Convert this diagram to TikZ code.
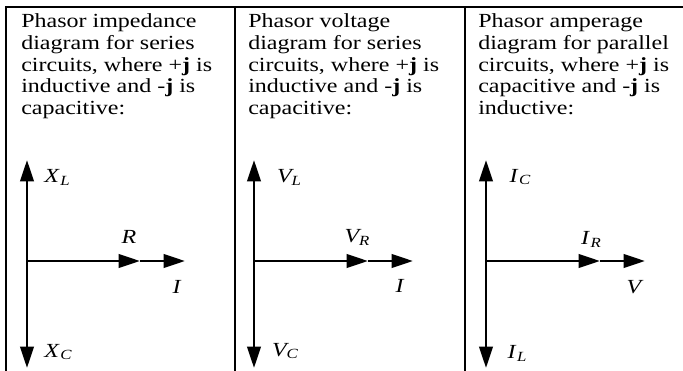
\documentclass[tikz,border=0pt]{standalone}
\usepackage{fontspec}
\setmainfont{Liberation Serif}
\usetikzlibrary{arrows.meta}
\newcommand{\phs}[3][0.3pt]{\textit{#2}\kern#1\raisebox{-0.32ex}{\fontsize{10.5}{10.5}\selectfont\textit{#3}}}

\begin{document}
\begin{tikzpicture}[x=0.75pt,y=-0.75pt,
  rule/.style={line width=1.5pt},
  caption/.style={anchor=north west,inner sep=0pt,align=left,xscale=1.2,transform shape,font=\fontsize{15pt}{16.3pt}\selectfont},
  phasor/.style={line width=2pt,-{Triangle[length=16pt,width=10pt]}},
  tag/.style={inner sep=0pt,xscale=1.2,transform shape,font=\fontsize{15pt}{16pt}\selectfont}]
\useasboundingbox (0,0) rectangle (683,371);

\draw[rule] (6,371) -- (6,6.5) -- (683,6.5);
\draw[rule] (234.5,6.5) -- (234.5,371);
\draw[rule] (465,6.5) -- (465,371);

\node[caption] (capA) at (21,13.5) {Phasor impedance\\diagram for series\\circuits, where +\textbf{j} is\\inductive and -\textbf{j} is\\capacitive:};
\node[caption] (capB) at (248,13.5) {Phasor voltage\\diagram for series\\circuits, where +\textbf{j} is\\inductive and -\textbf{j} is\\capacitive:};
\node[caption] (capC) at (478,13.5) {Phasor amperage\\diagram for parallel\\circuits, where +\textbf{j} is\\capacitive and -\textbf{j} is\\inductive:};

\coordinate (oA) at (27,261);
\coordinate (upA) at (27,160);
\coordinate (dnA) at (27,368);
\coordinate (midA) at (140,261);
\coordinate (endA) at (185,261);
\draw[phasor] (oA) -- (upA);
\draw[phasor] (oA) -- (dnA);
\draw[phasor] (oA) -- (midA);
\draw[phasor] (midA) -- (endA);
\node[tag] (xl) at (57,177) {\phs{X}{L}};
\node[tag] (r) at (129,237) {\textit{R}};
\node[tag] (ia) at (177,287) {\textit{I}};
\node[tag] (xc) at (58,352) {\phs{X}{C}};

\coordinate (oB) at (254,261);
\coordinate (upB) at (254,160);
\coordinate (dnB) at (254,368);
\coordinate (midB) at (368,261);
\coordinate (endB) at (413,261);
\draw[phasor] (oB) -- (upB);
\draw[phasor] (oB) -- (dnB);
\draw[phasor] (oB) -- (midB);
\draw[phasor] (midB) -- (endB);
\node[tag] (vl) at (289,177) {\phs[-1.5pt]{V}{L}};
\node[tag] (vr) at (357,237) {\phs[-1.5pt]{V}{R}};
\node[tag] (ib) at (400,286) {\textit{I}};
\node[tag] (vc) at (285,351) {\phs[-1.5pt]{V}{C}};

\coordinate (oC) at (486,261);
\coordinate (upC) at (486,160);
\coordinate (dnC) at (486,368);
\coordinate (midC) at (600,261);
\coordinate (endC) at (645,261);
\draw[phasor] (oC) -- (upC);
\draw[phasor] (oC) -- (dnC);
\draw[phasor] (oC) -- (midC);
\draw[phasor] (midC) -- (endC);
\node[tag] (ic) at (520,177) {\phs{I}{C}};
\node[tag] (ir) at (591,239) {\phs{I}{R}};
\node[tag] (v) at (635,287) {\textit{V}};
\node[tag] (il) at (517,353) {\phs{I}{L}};
\end{tikzpicture}
\end{document}
